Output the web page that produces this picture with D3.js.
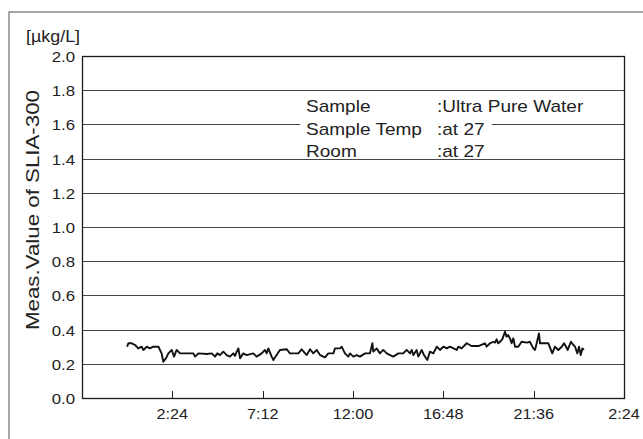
<!DOCTYPE html>
<html><head><meta charset="utf-8">
<script src="https://cdn.jsdelivr.net/npm/d3@7"></script>
<style>body{margin:0;background:#fff}svg{display:block}</style>
</head><body>
<script>
// ---- data ----
const hours = [0.00,0.06,0.24,0.42,0.59,0.77,0.86,1.04,1.21,1.39,1.66,1.83,1.92,2.06,2.19,2.37,2.49,2.63,2.81,3.52,3.61,3.78,4.23,4.49,4.67,4.79,4.93,5.11,5.29,5.46,5.64,5.73,5.82,5.91,6.00,6.17,6.35,6.70,6.88,7.15,7.32,7.41,7.50,7.68,7.77,7.94,8.12,8.48,8.65,9.10,9.27,9.54,9.72,9.89,10.07,10.25,10.51,10.69,10.96,11.04,11.31,
11.40,11.57,11.75,11.84,12.02,12.19,12.37,12.64,12.90,13.03,13.08,13.26,13.43,13.61,13.79,13.97,14.14,14.41,14.67,14.85,15.03,15.12,15.21,15.38,15.47,15.65,15.77,15.95,16.09,16.27,16.45,16.62,16.80,16.98,17.15,17.51,17.60,17.77,17.95,18.04,18.30,18.66,19.01,19.10,19.28,19.46,19.55,19.63,19.72,19.81,19.93,20.08,20.16,20.25,20.34,20.43,20.52,20.61,20.78,20.96,21.23,21.40,21.58,21.67,21.76,21.88,21.94,22.38,22.59,22.73,22.91,23.09,23.21,23.32,23.41,23.58,23.71,23.80,23.92,24.01,24.10,24.19,24.27];
const values = [.300,.320,.320,.310,.290,.300,.281,.300,.290,.300,.300,.261,.212,.232,.261,.281,.242,.281,.261,.261,.242,.261,.257,.261,.242,.261,.251,.271,.251,.242,.261,.246,.271,.290,.232,.261,.251,.261,.242,.261,.281,.261,.290,.242,.222,.251,.281,.285,.261,.261,.285,.251,.285,.261,.281,.251,.238,.261,.261,.290,.290,
.300,.261,.242,.261,.242,.251,.242,.261,.261,.320,.271,.290,.261,.281,.261,.251,.242,.261,.261,.281,.261,.281,.251,.281,.242,.281,.251,.222,.271,.261,.300,.281,.300,.290,.300,.281,.300,.290,.310,.320,.304,.304,.320,.300,.320,.329,.324,.343,.320,.329,.343,.388,.359,.368,.349,.320,.349,.300,.300,.329,.324,.329,.290,.281,.320,.378,.320,.320,.261,.300,.281,.300,.320,.300,.281,.329,.310,.300,.261,.300,.251,.290,.281];
const yTicks = [0.0,0.2,0.4,0.6,0.8,1.0,1.2,1.4,1.6,1.8,2.0];
const xTickHours = [2.4,7.2,12.0,16.8,21.6,26.4];
const xDomainHours = [-2.4, 26.4];
const unitLabel = "[µkg/L]";
const yTitle = "Meas.Value of SLIA-300";
const infoKeys = ["Sample","Sample Temp","Room"];
const infoVals = [":Ultra Pure Water",":at 27",":at 27"];

// ---- layout ----
const W = 643, H = 439;
const L = 82, R = 624, T = 56, B = 398;
const SX = 1.12;
const FONT = "'Liberation Sans', Arial, sans-serif";

const base = new Date(2020,0,2,0,0,0);
const toDate = h => new Date(base.getTime() + h*3600e3);

const svg = d3.select("body").append("svg").attr("width",W).attr("height",H);

svg.append("rect").attr("x",9).attr("y",12).attr("width",700).attr("height",500)
  .attr("fill","none").attr("stroke","#8a8a8a").attr("stroke-width",1.5);

const x = d3.scaleTime().domain(xDomainHours.map(toDate)).range([L,R]);
const y = d3.scaleLinear().domain([0,2]).range([B,T]);

function txt(g, s, px, py, size, anchor){
  return g.append("text").attr("transform",`translate(${px},${py}) scale(${SX},1)`)
    .attr("font-family",FONT).attr("font-size",size).attr("fill","#222")
    .attr("text-anchor",anchor||"start").text(s);
}

// gridlines
const grid = svg.append("g");
grid.selectAll("line").data(yTicks.filter(v=>v>0&&v<2)).join("line")
  .attr("x1",L).attr("x2",R).attr("y1",d=>Math.round(y(d))+0.5).attr("y2",d=>Math.round(y(d))+0.5)
  .attr("stroke","#444").attr("stroke-width",1);

// y tick labels
const fmtY = d3.format(".1f");
yTicks.forEach(v=> txt(svg, fmtY(v), 75, y(v)+6, 15, "end"));

// x ticks inward
const fmtX = d3.timeFormat("%-H:%M");
const xt = xTickHours.map(toDate);
svg.append("g").selectAll("line").data(xt).join("line")
  .attr("x1",d=>Math.round(x(d))+0.5).attr("x2",d=>Math.round(x(d))+0.5)
  .attr("y1",B).attr("y2",B-7).attr("stroke","#222").attr("stroke-width",1);
xt.forEach(d=> txt(svg, fmtX(d), x(d), B+21, 14.5, "middle"));

// plot frame
svg.append("rect").attr("x",L+0.5).attr("y",T+0.5).attr("width",R-L).attr("height",B-T)
  .attr("fill","none").attr("stroke","#1a1a1a").attr("stroke-width",1.3);

// info text
const rowY = [112, 134.5, 157];
svg.append("rect").attr("x",300).attr("y",y(1.6)-8).attr("width",192).attr("height",16).attr("fill","#fff");
infoKeys.forEach((k,i)=>{ txt(svg,k,306,rowY[i],17); txt(svg,infoVals[i],437,rowY[i],17); });

// unit and title
txt(svg, unitLabel, 26, 42, 16);
svg.append("text").attr("transform",`translate(39,210) rotate(-90)`)
  .attr("font-family",FONT).attr("font-size",18.5).attr("fill","#222")
  .attr("text-anchor","middle").attr("textLength",240).attr("lengthAdjust","spacingAndGlyphs").text(yTitle);

// data line
const line = d3.line().x((d,i)=>x(toDate(hours[i]))).y(d=>y(d));
svg.append("path").datum(values).attr("d",line)
  .attr("fill","none").attr("stroke","#111").attr("stroke-width",1.9).attr("stroke-linejoin","round");
</script>
</body></html>
